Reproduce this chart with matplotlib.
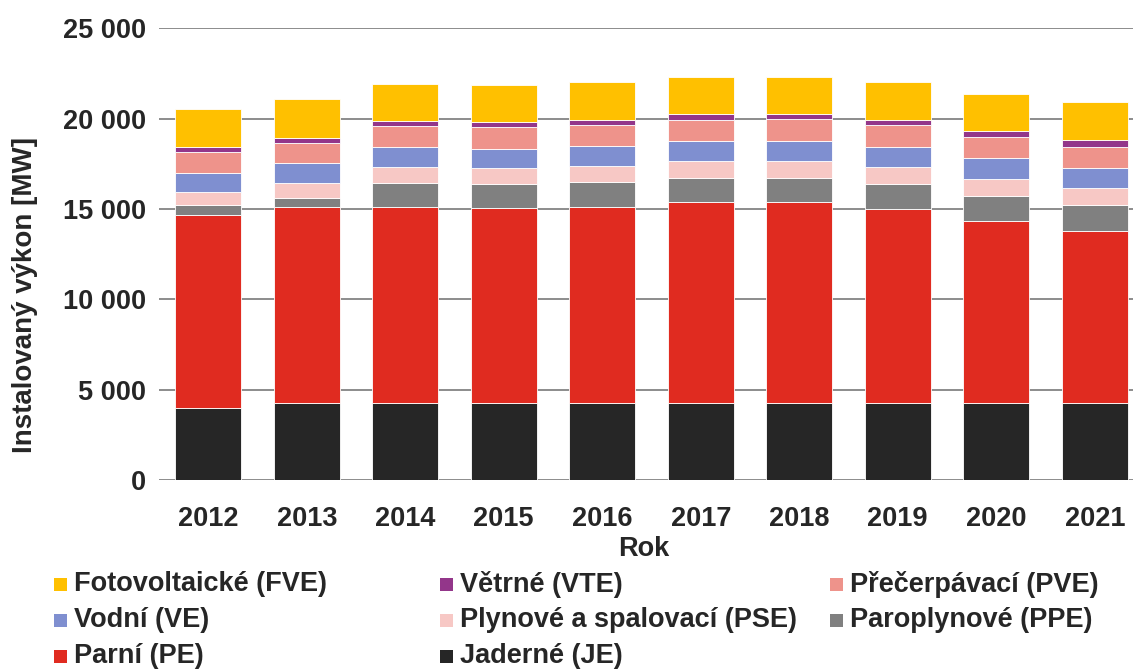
import matplotlib
matplotlib.use("Agg")
import matplotlib.pyplot as plt
from matplotlib.patches import Rectangle
import numpy as np

plt.rcParams['font.family'] = ['Liberation Sans', 'DejaVu Sans']
plt.rcParams['font.weight'] = 'bold'

years = ['2012', '2013', '2014', '2015', '2016', '2017', '2018', '2019', '2020', '2021']

# Installed capacity [MW] by source (stack order bottom -> top)
je  = [4000, 4280, 4280, 4280, 4280, 4280, 4280, 4280, 4280, 4280]
pe  = [10670, 10810, 10840, 10760, 10840, 11100, 11100, 10730, 10070, 9520]
ppe = [530, 530, 1330, 1340, 1370, 1350, 1350, 1390, 1370, 1400]
pse = [750, 800, 850, 870, 890, 910, 920, 920, 950, 960]
ve  = [1060, 1110, 1130, 1070, 1100, 1100, 1110, 1110, 1130, 1120]
pve = [1140, 1140, 1160, 1200, 1180, 1170, 1200, 1200, 1180, 1170]
vte = [280, 250, 260, 280, 280, 330, 310, 310, 330, 350]
fve = [2100, 2170, 2060, 2080, 2090, 2080, 2050, 2090, 2050, 2100]

series = [
    ('Jaderné (JE)', je, '#262626'),
    ('Parní (PE)', pe, '#E02B20'),
    ('Paroplynové (PPE)', ppe, '#808080'),
    ('Plynové a spalovací (PSE)', pse, '#F7C8C5'),
    ('Vodní (VE)', ve, '#7F8FD0'),
    ('Přečerpávací (PVE)', pve, '#EE938B'),
    ('Větrné (VTE)', vte, '#93368A'),
    ('Fotovoltaické (FVE)', fve, '#FFC000'),
]

W, H = 1133, 669
fig = plt.figure(figsize=(W / 100, H / 100), dpi=100)
ax_left, ax_right, ax_bottom, ax_top = 159, 1133, 480, 28.3
ax = fig.add_axes([ax_left / W, 1 - ax_bottom / H, (ax_right - ax_left) / W, (ax_bottom - ax_top) / H])

x = np.arange(len(years))
bottom = np.zeros(len(years))
handles = {}
for name, vals, col in series:
    ax.bar(x, vals, width=0.67, bottom=bottom, color=col, edgecolor='#ffffff',
           linewidth=0.6, zorder=3, label=name)
    handles[name] = col
    bottom += np.array(vals)

ax.set_ylim(0, 25000)
ax.set_xlim(-0.5, -0.5 + (ax_right - ax_left) / 98.5)
ax.set_yticks(np.arange(0, 25001, 5000))
ax.set_yticklabels([f"{v:,}".replace(',', ' ') for v in range(0, 25001, 5000)])
ax.set_xticks(x)
ax.set_xticklabels(years)
ax.grid(axis='y', color='#8c8c8c', linewidth=1.4, zorder=0)
ax.set_axisbelow(True)
for s in ax.spines.values():
    s.set_visible(False)
ax.tick_params(axis='both', length=0, labelsize=19.5, colors='#262626')
ax.tick_params(axis='y', pad=9)
ax.tick_params(axis='x', pad=19)

txtc = '#262626'
fig.text(25 / W, 1 - 295 / H, 'Instalovaný výkon [MW]', rotation=90, ha='center', va='center',
         fontsize=20, fontweight='bold', color=txtc)
fig.text(644 / W, 1 - 549 / H, 'Rok', ha='center', va='center',
         fontsize=19.5, fontweight='bold', color=txtc)

# Legend (row-major, three fixed columns)
legend_order = ['Fotovoltaické (FVE)', 'Větrné (VTE)', 'Přečerpávací (PVE)',
                'Vodní (VE)', 'Plynové a spalovací (PSE)', 'Paroplynové (PPE)',
                'Parní (PE)', 'Jaderné (JE)']
col_x = [54, 440, 830]
row_y = [584, 620, 656]
for i, name in enumerate(legend_order):
    r, c = divmod(i, 3)
    cx, cy = col_x[c], row_y[r]
    fig.add_artist(Rectangle((cx / W, 1 - (cy + 6.5) / H), 13 / W, 13 / H,
                             transform=fig.transFigure, facecolor=handles[name],
                             edgecolor='none'))
    fig.text((cx + 20) / W, 1 - cy / H, name, ha='left', va='center',
             fontsize=19.5, fontweight='bold', color=txtc)

fig.savefig('out.png', dpi=100)
